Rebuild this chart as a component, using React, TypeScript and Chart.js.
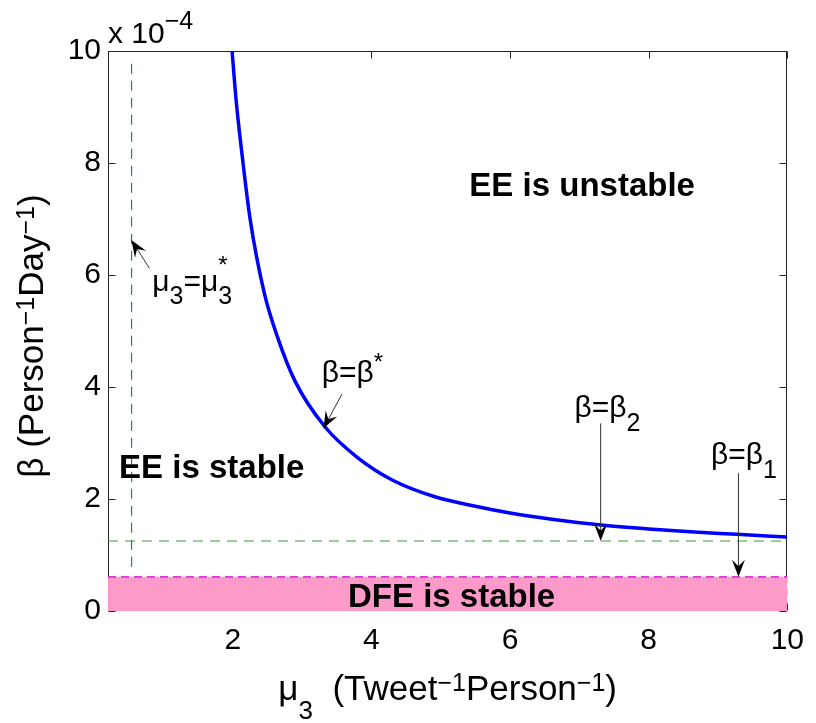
import { useEffect, useRef } from 'react';
import { Chart, registerables } from 'chart.js';

Chart.register(...registerables);

const FONT = '"Liberation Sans", Arial, Helvetica, sans-serif';

// Axis ranges and ticks
const X_MIN = 0.2;
const X_MAX = 10;
const Y_MIN = 0;
const Y_MAX = 10;
const xTicks = [2, 4, 6, 8, 10];
const yTicks = [0, 2, 4, 6, 8, 10];

// beta* curve (units of 1e-4)
const muValues = [1.99, 2.05, 2.146, 2.25, 2.454, 2.643, 2.9, 3.329, 3.8, 4.3, 4.916, 5.5, 6.0, 6.6, 7.284, 8.0, 8.6, 9.272, 10.0];
const betaStar = [10.0, 9.1, 8.02, 7.0, 5.68, 4.9, 4.1, 3.29, 2.74, 2.34, 2.04, 1.87, 1.75, 1.64, 1.54, 1.465, 1.415, 1.37, 1.32];

// thresholds
const beta1 = 0.61;
const beta2 = 1.25;
const muStar = 0.54;
const muStarLine = [0.79, 9.79];

// region labels (bold)
const regionText = ['EE is unstable', 'EE is stable', 'DFE is stable'];
const regionX = [5.413, 0.36, 5.157];
const regionY = [7.41, 2.37, 0.07];
const regionAlign = ['left', 'left', 'center'];

// annotation labels: baseline-left positions in data units
type Seg = { t: string; size: number; dy?: number; stack?: boolean; bold?: boolean };
const annSegs: Seg[][] = [
  [
    { t: 'μ', size: 30 },
    { t: '3', size: 25, dy: 13 },
    { t: '=', size: 30 },
    { t: 'μ', size: 30 },
    { t: '3', size: 25, dy: 13 },
    { t: '*', size: 24, dy: -18, stack: true },
  ],
  [
    { t: 'β=β', size: 30 },
    { t: '*', size: 24, dy: -12 },
  ],
  [
    { t: 'β=β', size: 30 },
    { t: '2', size: 25, dy: 14 },
  ],
  [
    { t: 'β=β', size: 30 },
    { t: '1', size: 25, dy: 14 },
  ],
];
const annX = [0.839, 3.282, 6.93, 8.9];
const annY = [5.71, 4.095, 3.46, 2.63];

// arrows: tail -> tip (data units)
const arrowTailX = [0.797, 3.576, 7.307, 9.295];
const arrowTailY = [6.12, 3.875, 3.35, 2.46];
const arrowTipX = [0.537, 3.307, 7.307, 9.295];
const arrowTipY = [6.625, 3.26, 1.25, 0.61];

function fontStr(size: number, bold?: boolean) {
  return `${bold ? 'bold ' : ''}${size}px ${FONT}`;
}

function layoutRich(ctx: CanvasRenderingContext2D, segs: Seg[]) {
  let cx = 0;
  let prevStart = 0;
  const out: { seg: Seg; x: number }[] = [];
  for (const s of segs) {
    ctx.font = fontStr(s.size, s.bold);
    const w = ctx.measureText(s.t).width;
    const start = s.stack ? prevStart : cx;
    out.push({ seg: s, x: start });
    cx = Math.max(cx, start + w);
    prevStart = start;
  }
  return { items: out, width: cx };
}

function drawRich(ctx: CanvasRenderingContext2D, segs: Seg[], x: number, y: number, align: 'left' | 'center' = 'left', rotate = false) {
  ctx.save();
  ctx.translate(x, y);
  if (rotate) ctx.rotate(-Math.PI / 2);
  const { items, width } = layoutRich(ctx, segs);
  const off = align === 'center' ? -width / 2 : 0;
  ctx.textAlign = 'left';
  ctx.textBaseline = 'alphabetic';
  ctx.fillStyle = '#000';
  for (const it of items) {
    ctx.font = fontStr(it.seg.size, it.seg.bold);
    ctx.fillText(it.seg.t, off + it.x, it.seg.dy || 0);
  }
  ctx.restore();
}

function drawArrow(ctx: CanvasRenderingContext2D, x1: number, y1: number, x2: number, y2: number) {
  const ang = Math.atan2(y2 - y1, x2 - x1);
  const L = 17;
  const W = 6.5;
  const ux = Math.cos(ang);
  const uy = Math.sin(ang);
  const px = -uy;
  const py = ux;
  ctx.save();
  ctx.strokeStyle = '#333';
  ctx.lineWidth = 1;
  ctx.beginPath();
  ctx.moveTo(x1, y1);
  ctx.lineTo(x2 - ux * 8, y2 - uy * 8);
  ctx.stroke();
  ctx.fillStyle = '#000';
  ctx.beginPath();
  ctx.moveTo(x2, y2);
  ctx.lineTo(x2 - ux * L + px * W, y2 - uy * L + py * W);
  ctx.lineTo(x2 - ux * L * 0.62, y2 - uy * L * 0.62);
  ctx.lineTo(x2 - ux * L - px * W, y2 - uy * L - py * W);
  ctx.closePath();
  ctx.fill();
  ctx.restore();
}

const boxPlugin = {
  id: 'boxPlugin',
  beforeDatasetsDraw(chart: any) {
    const { ctx, chartArea: a, scales } = chart;
    const xs = scales.x;
    const ys = scales.y;
    ctx.save();
    ctx.strokeStyle = '#222';
    ctx.lineWidth = 1;
    const l = Math.round(a.left) + 0.5;
    const r = Math.round(a.right) - 0.5;
    const t = Math.round(a.top) + 0.5;
    const b = Math.round(a.bottom) - 0.5;
    ctx.strokeRect(l, t, r - l, b - t);
    const tl = 7;
    ctx.beginPath();
    for (const v of xTicks) {
      const p = Math.round(xs.getPixelForValue(v)) + 0.5;
      ctx.moveTo(p, b);
      ctx.lineTo(p, b - tl);
      ctx.moveTo(p, t);
      ctx.lineTo(p, t + tl);
    }
    for (const v of yTicks) {
      const p = Math.round(ys.getPixelForValue(v)) + 0.5;
      ctx.moveTo(l, p);
      ctx.lineTo(l + tl, p);
      ctx.moveTo(r, p);
      ctx.lineTo(r - tl, p);
    }
    ctx.stroke();
    ctx.restore();
  },
  afterDraw(chart: any) {
    const { ctx, chartArea: a, scales } = chart;
    const xs = scales.x;
    const ys = scales.y;
    for (let i = 0; i < arrowTailX.length; i++) {
      drawArrow(
        ctx,
        xs.getPixelForValue(arrowTailX[i]),
        ys.getPixelForValue(arrowTailY[i]),
        xs.getPixelForValue(arrowTipX[i]),
        ys.getPixelForValue(arrowTipY[i])
      );
    }
    for (let i = 0; i < annSegs.length; i++) {
      drawRich(ctx, annSegs[i], xs.getPixelForValue(annX[i]), ys.getPixelForValue(annY[i]));
    }
    for (let i = 0; i < regionText.length; i++) {
      drawRich(
        ctx,
        [{ t: regionText[i], size: 33, bold: true }],
        xs.getPixelForValue(regionX[i]),
        ys.getPixelForValue(regionY[i]),
        regionAlign[i] as any
      );
    }
    drawRich(
      ctx,
      [
        { t: 'x 10', size: 30 },
        { t: '−4', size: 25, dy: -14 },
      ],
      a.left,
      a.top - 8
    );
    drawRich(
      ctx,
      [
        { t: 'μ', size: 35 },
        { t: '3', size: 26, dy: 19 },
        { t: '  (Tweet', size: 35 },
        { t: '−1', size: 25, dy: -9 },
        { t: 'Person', size: 35 },
        { t: '−1', size: 25, dy: -9 },
        { t: ')', size: 35 },
      ],
      (a.left + a.right) / 2,
      a.bottom + 89,
      'center'
    );
    drawRich(
      ctx,
      [
        { t: 'β (Person', size: 35 },
        { t: '−1', size: 25, dy: -9 },
        { t: 'Day', size: 35 },
        { t: '−1', size: 25, dy: -9 },
        { t: ')', size: 35 },
      ],
      43,
      (a.top + a.bottom) / 2 + 5,
      'center',
      true
    );
  },
};

export default function App() {
  const ref = useRef<HTMLCanvasElement | null>(null);
  useEffect(() => {
    if (!ref.current) return;
    const curve = muValues.map((m, i) => ({ x: m, y: betaStar[i] }));
    const chart = new Chart(ref.current, {
      type: 'line',
      data: {
        datasets: [
          {
            data: curve,
            borderColor: '#0000ff',
            borderWidth: 3.5,
            pointRadius: 0,
            cubicInterpolationMode: 'monotone',
            fill: false,
            order: 0,
          } as any,
          {
            data: [
              { x: muStar, y: muStarLine[0] },
              { x: muStar, y: muStarLine[1] },
            ],
            borderColor: '#1f8f1f',
            borderWidth: 1.2,
            borderDash: [10, 7],
            pointRadius: 0,
            fill: false,
            order: 2,
          },
          {
            data: [
              { x: X_MIN, y: beta2 },
              { x: X_MAX, y: beta2 },
            ],
            borderColor: '#3a9a3a',
            borderWidth: 1,
            borderDash: [10, 7],
            pointRadius: 0,
            fill: false,
            order: 2,
          },
          {
            data: [
              { x: X_MIN, y: beta1 },
              { x: X_MAX, y: beta1 },
            ],
            borderColor: '#d400d4',
            borderWidth: 1.2,
            borderDash: [8, 5],
            backgroundColor: 'rgb(254,154,201)',
            fill: 'origin',
            pointRadius: 0,
            order: 3,
          } as any,
          {
            data: [
              { x: X_MIN, y: beta1 },
              { x: X_MIN, y: 0 },
              { x: X_MAX, y: 0 },
              { x: X_MAX, y: beta1 },
            ],
            borderColor: '#d400d4',
            borderWidth: 1.2,
            borderDash: [8, 5],
            pointRadius: 0,
            fill: false,
            order: 3,
          } as any,
        ],
      },
      options: {
        animation: false,
        responsive: false,
        devicePixelRatio: 1,
        layout: { padding: { top: 51, right: 18, left: 0, bottom: 0 } },
        plugins: { legend: { display: false }, tooltip: { enabled: false } },
        scales: {
          x: {
            type: 'linear',
            min: X_MIN,
            max: X_MAX,
            grid: { display: false, drawTicks: false },
            border: { display: false },
            afterBuildTicks: (s: any) => {
              s.ticks = xTicks.map((v) => ({ value: v }));
            },
            ticks: {
              font: { family: FONT, size: 30 },
              color: '#000',
              padding: 12,
              autoSkip: false,
              maxRotation: 0,
            },
            afterFit: (s: any) => {
              s.height = 112;
            },
          },
          y: {
            type: 'linear',
            min: Y_MIN,
            max: Y_MAX,
            grid: { display: false, drawTicks: false },
            border: { display: false },
            afterBuildTicks: (s: any) => {
              s.ticks = yTicks.map((v) => ({ value: v }));
            },
            ticks: {
              font: { family: FONT, size: 30 },
              color: '#000',
              padding: 7,
              autoSkip: false,
            },
            afterFit: (s: any) => {
              s.width = 108;
            },
          },
        },
      },
      plugins: [boxPlugin],
    });
    return () => chart.destroy();
  }, []);
  return (
    <div style={{ position: 'fixed', left: 0, top: 0, width: 816, height: 723, background: '#fff' }}>
      <canvas ref={ref} width={816} height={723} style={{ display: 'block' }} />
    </div>
  );
}
